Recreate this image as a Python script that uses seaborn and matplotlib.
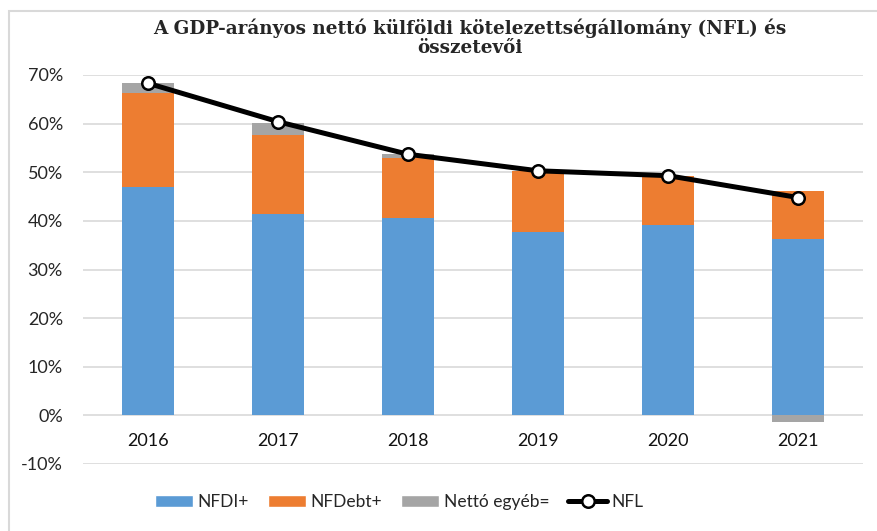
import matplotlib
matplotlib.use("Agg")
import matplotlib.pyplot as plt
from matplotlib.patches import Patch, Rectangle
from matplotlib.lines import Line2D
import numpy as np
import pandas as pd
import seaborn as sns

# Net foreign liabilities as % of GDP and their components
years = ["2016", "2017", "2018", "2019", "2020", "2021"]
nfdi = [47.0, 41.5, 40.5, 37.7, 39.2, 36.2]
nfdebt = [19.2, 16.1, 12.5, 12.5, 10.1, 9.9]
netto_egyeb = [2.1, 2.6, 0.7, 0.0, 0.0, -1.3]
nfl = [68.3, 60.4, 53.7, 50.3, 49.3, 44.8]

title = "A GDP-arányos nettó külföldi kötelezettségállomány (NFL) és\nösszetevői"
y_ticks = [-10, 0, 10, 20, 30, 40, 50, 60, 70]

c_blue = "#5B9BD5"
c_orange = "#ED7D31"
c_gray = "#A5A5A5"

sns.set_theme(style="white")
plt.rcParams["font.family"] = ["Lato", "DejaVu Sans"]

df = pd.DataFrame({"year": years, "nfdi": nfdi, "nfdebt": nfdebt,
                   "egyeb": netto_egyeb, "nfl": nfl})
pos_top = np.array(nfdi) + np.array(nfdebt)
egyeb_bottom = np.where(np.array(netto_egyeb) >= 0, pos_top, 0.0)

fig = plt.figure(figsize=(8.77, 5.31), dpi=100)
ax = fig.add_axes([83 / 877, 1 - 464 / 531, (863 - 83) / 877, (464 - 75) / 531])

for v in y_ticks:
    ax.axhline(v, color="#D9D9D9", lw=1.2, zorder=0)

bar_w = 0.4
bar_kw = dict(width=bar_w, saturation=1, linewidth=0, ax=ax, zorder=2)
sns.barplot(data=df, x="year", y="nfdi", color=c_blue, **bar_kw)
sns.barplot(data=df, x="year", y="nfdebt", color=c_orange,
            bottom=df["nfdi"].to_numpy(), **bar_kw)
sns.barplot(data=df, x="year", y="egyeb", color=c_gray,
            bottom=egyeb_bottom, **bar_kw)
sns.pointplot(data=df, x="year", y="nfl", color="black", ax=ax,
              markers="o", markersize=9, markerfacecolor="white",
              markeredgecolor="black", markeredgewidth=1.8,
              linewidth=3.6, zorder=5)

ax.set_xlim(-0.5, 5.5)
ax.set_ylim(-10, 70)
ax.set_yticks(y_ticks)
ax.set_yticklabels([f"{v}%" for v in y_ticks], fontsize=13)
ax.tick_params(axis="y", length=0, pad=14.5)
ax.set_xticks([])
ax.set_xlabel("")
ax.set_ylabel("")
for s in ax.spines.values():
    s.set_visible(False)

for i, yr in enumerate(years):
    ax.text(i, -5.2, yr, ha="center", va="center", fontsize=13, color="#111111")

fig.text(470 / 877, 1 - 38 / 531, title, ha="center", va="center", fontsize=13.2,
         fontweight="bold", family=["DejaVu Serif"], linespacing=1.05)

handles = [
    Patch(facecolor=c_blue, label="NFDI+"),
    Patch(facecolor=c_orange, label="NFDebt+"),
    Patch(facecolor=c_gray, label="Nettó egyéb="),
    Line2D([0], [0], color="black", lw=3.6, marker="o", markersize=9,
           markerfacecolor="white", markeredgecolor="black",
           markeredgewidth=1.8, label="NFL"),
]
fig.legend(handles=handles, loc="center", bbox_to_anchor=(399 / 877, 1 - 502 / 531),
           ncol=4, frameon=False, fontsize=12.5, handlelength=2.2,
           handleheight=0.7, handletextpad=0.25, columnspacing=1.1)

# outer frame of the chart area
fig.patches.append(Rectangle((9 / 877, -0.05), 1.2, 1 - 11 / 531 + 0.05,
                             transform=fig.transFigure, fill=False,
                             edgecolor="#D9D9D9", lw=1.5))

fig.savefig("out.png", dpi=100)
